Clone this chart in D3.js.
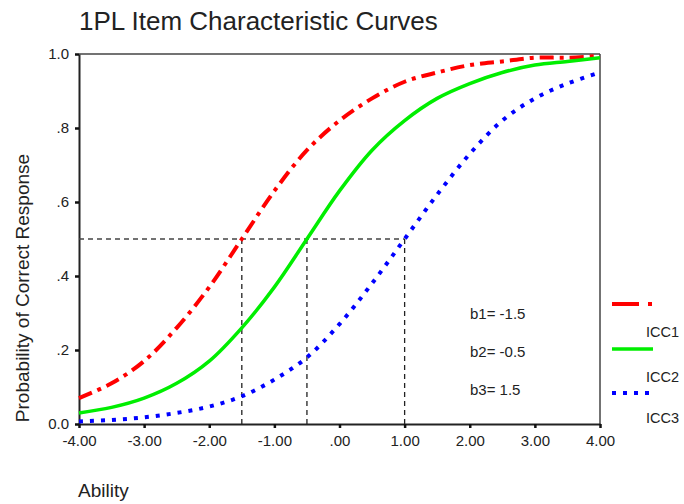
<!DOCTYPE html>
<html>
<head>
<meta charset="utf-8">
<script src="https://cdn.jsdelivr.net/npm/d3@7"></script>
<style>
  body { margin: 0; background: #fff; }
  text { font-family: "Liberation Sans", Arial, sans-serif; fill: #222; }
</style>
</head>
<body>
<script>
// ability values along the x axis
var ability = [-4, -3.5, -3, -2.5, -2, -1.5, -1, -0.5, 0, 0.5, 1, 1.5, 2, 2.5, 3, 3.5, 4];
// probabilities
var icc1 = [0.07, 0.11, 0.17, 0.26, 0.37, 0.50, 0.63, 0.74, 0.82, 0.88, 0.925, 0.95, 0.97, 0.98, 0.99, 0.99, 0.995];
var icc2 = [0.03, 0.045, 0.07, 0.11, 0.17, 0.26, 0.37, 0.50, 0.63, 0.74, 0.82, 0.88, 0.92, 0.95, 0.97, 0.98, 0.99];
var icc3 = [0.007, 0.011, 0.018, 0.03, 0.047, 0.075, 0.12, 0.18, 0.27, 0.38, 0.50, 0.62, 0.73, 0.82, 0.88, 0.92, 0.95];
var difficulty = [-1.5, -0.5, 1.0];   // where the dashed guides drop down
var bLabels = ["b1= -1.5", "b2= -0.5", "b3= 1.5"];
var seriesNames = ["ICC1", "ICC2", "ICC3"];
var xTicks = [-4, -3, -2, -1, 0, 1, 2, 3, 4];
var xTickLabels = ["-4.00", "-3.00", "-2.00", "-1.00", ".00", "1.00", "2.00", "3.00", "4.00"];
var yTicks = [0, 0.2, 0.4, 0.6, 0.8, 1.0];
var yTickLabels = ["0.0", ".2", ".4", ".6", ".8", "1.0"];

var w_svg = 684, h_svg = 504;
// plot edges (note: "top" is reserved on window, so use pad_ names)
var pad_left = 79, pad_right = 600, pad_top = 54, pad_bottom = 424;

var svg = d3.select("body").append("svg")
  .attr("width", w_svg).attr("height", h_svg);

var xScale = d3.scaleLinear().domain([-4, 4]).range([pad_left, pad_right]);
var yScale = d3.scaleLinear().domain([0, 1]).range([pad_bottom, pad_top]);

// title
svg.append("text").attr("x", 79).attr("y", 30)
  .attr("font-size", 26).attr("fill", "#111").text("1PL Item Characteristic Curves");

// frame: top and right edges
svg.append("line").attr("x1", pad_left).attr("x2", pad_right).attr("y1", pad_top).attr("y2", pad_top)
  .attr("stroke", "#444").attr("stroke-width", 1.5);
svg.append("line").attr("x1", pad_right).attr("x2", pad_right).attr("y1", pad_top).attr("y2", pad_bottom)
  .attr("stroke", "#444").attr("stroke-width", 1.5);

// axes
var x_axis = d3.axisBottom(xScale).tickValues(xTicks)
  .tickFormat(function(d, i) { return xTickLabels[i]; })
  .tickSizeInner(4).tickSizeOuter(0).tickPadding(7);
var gx = svg.append("g").attr("transform", "translate(0," + pad_bottom + ")").call(x_axis);

var y_axis = d3.axisLeft(yScale).tickValues(yTicks)
  .tickFormat(function(d, i) { return yTickLabels[i]; })
  .tickSizeInner(4).tickSizeOuter(0).tickPadding(6);
var gy = svg.append("g").attr("transform", "translate(" + pad_left + ",0)").call(y_axis);

[gx, gy].forEach(function(g) {
  g.select(".domain").attr("stroke", "#222").attr("stroke-width", 2);
  g.selectAll(".tick line").attr("stroke", "#111").attr("stroke-width", 2.5);
  g.selectAll(".tick text").attr("font-size", 15).attr("fill", "#333")
    .style("font-family", "'Liberation Sans', Arial, sans-serif");
});

// dashed guides at p = .5
svg.append("line")
  .attr("x1", xScale(-4)).attr("x2", xScale(d3.max(difficulty)))
  .attr("y1", yScale(0.5)).attr("y2", yScale(0.5))
  .attr("stroke", "#444").attr("stroke-width", 1.3).attr("stroke-dasharray", "5,4");
svg.selectAll(".guide").data(difficulty).enter().append("line")
  .attr("class", "guide")
  .attr("x1", function(d) { return xScale(d); }).attr("x2", function(d) { return xScale(d); })
  .attr("y1", yScale(0.5)).attr("y2", yScale(0))
  .attr("stroke", "#222").attr("stroke-width", 1.3).attr("stroke-dasharray", "5,4");

// curves
var styles = [
  { color: "#ff0000", width: 4, dash: "14,6,4,6" },
  { color: "#00ee00", width: 3.5, dash: null },
  { color: "#0000ff", width: 4, dash: "4,7" }
];
var line = d3.line()
  .x(function(d) { return xScale(d[0]); })
  .y(function(d) { return yScale(d[1]); })
  .curve(d3.curveCatmullRom.alpha(0.5));

[icc1, icc2, icc3].forEach(function(vals, k) {
  var pts = ability.map(function(a, i) { return [a, vals[i]]; });
  svg.append("path").datum(pts).attr("d", line)
    .attr("fill", "none")
    .attr("stroke", styles[k].color)
    .attr("stroke-width", styles[k].width)
    .attr("stroke-dasharray", styles[k].dash);
});

// b annotations
svg.selectAll(".blab").data(bLabels).enter().append("text")
  .attr("class", "blab")
  .attr("x", 470).attr("y", function(d, i) { return 319 + i * 38; })
  .attr("font-size", 15).text(function(d) { return d; });

// legend
var legY = [304, 349, 393];
var legTextY = [337, 382, 423];
seriesNames.forEach(function(name, k) {
  svg.append("line")
    .attr("x1", 612).attr("x2", 653).attr("y1", legY[k]).attr("y2", legY[k])
    .attr("stroke", styles[k].color)
    .attr("stroke-width", styles[k].width)
    .attr("stroke-dasharray", k == 0 ? "27,9,4,10" : styles[k].dash);
  svg.append("text").attr("x", 646).attr("y", legTextY[k])
    .attr("font-size", 14.5).text(name);
});

// axis titles
svg.append("text").attr("x", 78).attr("y", 497).attr("font-size", 19).text("Ability");
svg.append("text")
  .attr("transform", "translate(29,288) rotate(-90)")
  .attr("text-anchor", "middle").attr("font-size", 19)
  .text("Probability of Correct Response");
</script>
</body>
</html>
